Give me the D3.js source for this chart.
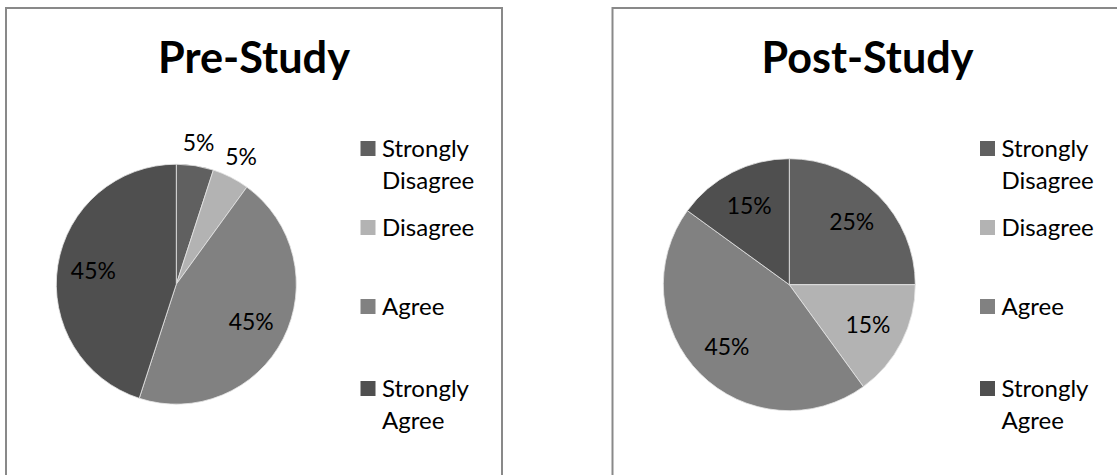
<!DOCTYPE html>
<html><head><meta charset="utf-8">
<script src="https://cdn.jsdelivr.net/npm/d3@7"></script>
<style>html,body{margin:0;padding:0;background:#fff;}svg{display:block;}</style>
</head><body>
<svg id="chart" width="1117" height="475"></svg>
<script>
const categories = ["Strongly Disagree", "Disagree", "Agree", "Strongly Agree"];
const legendLines = [["Strongly", "Disagree"], ["Disagree"], ["Agree"], ["Strongly", "Agree"]];
const preValues = [5, 5, 45, 45];
const postValues = [25, 15, 45, 15];
const titles = ["Pre-Study", "Post-Study"];
const colors = ["#606060", "#b3b3b3", "#818181", "#4f4f4f"];

const svg = d3.select("#chart");
const FONT = "Lato, 'Open Sans', sans-serif";

// fit font size to a target width
function fitSize(text, weight, target) {
  const t = svg.append("text").attr("font-family", FONT).attr("font-weight", weight)
    .attr("font-size", 100).text(text);
  const w = t.node().getComputedTextLength();
  t.remove();
  return 100 * target / w;
}
const legendSize = fitSize("Strongly", 400, 87);
const labelSize = fitSize("45%", 400, 45);

const panels = [
  {x: 6, w: 496, values: preValues, title: titles[0], titleW: 192, titleCx: 254,
   cx: 176.3, cy: 284.2, r: 120, legX: 360.5},
  {x: 612.5, w: 520, values: postValues, title: titles[1], titleW: 212, titleCx: 867.5,
   cx: 789.3, cy: 284.7, r: 126, legX: 980}
];

const legendBaselines = [157, 236, 315, 397];
const lineStep = 31.5;

panels.forEach(p => {
  const g = svg.append("g");
  g.append("rect").attr("x", p.x).attr("y", 8).attr("width", p.w).attr("height", 520)
    .attr("fill", "#fff").attr("stroke", "#898989").attr("stroke-width", 2);

  g.append("text").attr("x", p.titleCx).attr("y", 73).attr("text-anchor", "middle")
    .attr("font-family", FONT).attr("font-weight", 700)
    .attr("font-size", fitSize(p.title, 700, p.titleW)).attr("fill", "#000").text(p.title);

  const pie = d3.pie().sort(null).value(d => d)(p.values);
  const arc = d3.arc().innerRadius(0).outerRadius(p.r);
  const inLab = d3.arc().innerRadius(p.r * 0.7).outerRadius(p.r * 0.7);
  const outLab = d3.arc().innerRadius(p.r * 1.19).outerRadius(p.r * 1.19);
  const pg = g.append("g").attr("transform", `translate(${p.cx},${p.cy})`);
  pg.selectAll("path").data(pie).join("path")
    .attr("d", arc).attr("fill", (d, i) => colors[i])
    .attr("stroke", "#e6e6e6").attr("stroke-width", 0.8);
  pg.selectAll("text").data(pie).join("text")
    .attr("transform", d => {
      const c = (d.data < 10 ? outLab : inLab).centroid(d);
      return `translate(${c[0]},${c[1]})`;
    })
    .attr("dy", "0.35em").attr("text-anchor", "middle")
    .attr("font-family", FONT).attr("font-size", labelSize).attr("fill", "#000")
    .text(d => d.data + "%");

  const lg = g.append("g");
  categories.forEach((c, i) => {
    const b = legendBaselines[i];
    lg.append("rect").attr("x", p.legX).attr("y", b - 16).attr("width", 15).attr("height", 15)
      .attr("fill", colors[i]);
    const t = lg.append("text").attr("font-family", FONT).attr("font-size", legendSize)
      .attr("fill", "#000");
    legendLines[i].forEach((ln, j) => {
      t.append("tspan").attr("x", p.legX + 21.5).attr("y", b + j * lineStep).text(ln);
    });
  });
});
</script>
</body></html>
